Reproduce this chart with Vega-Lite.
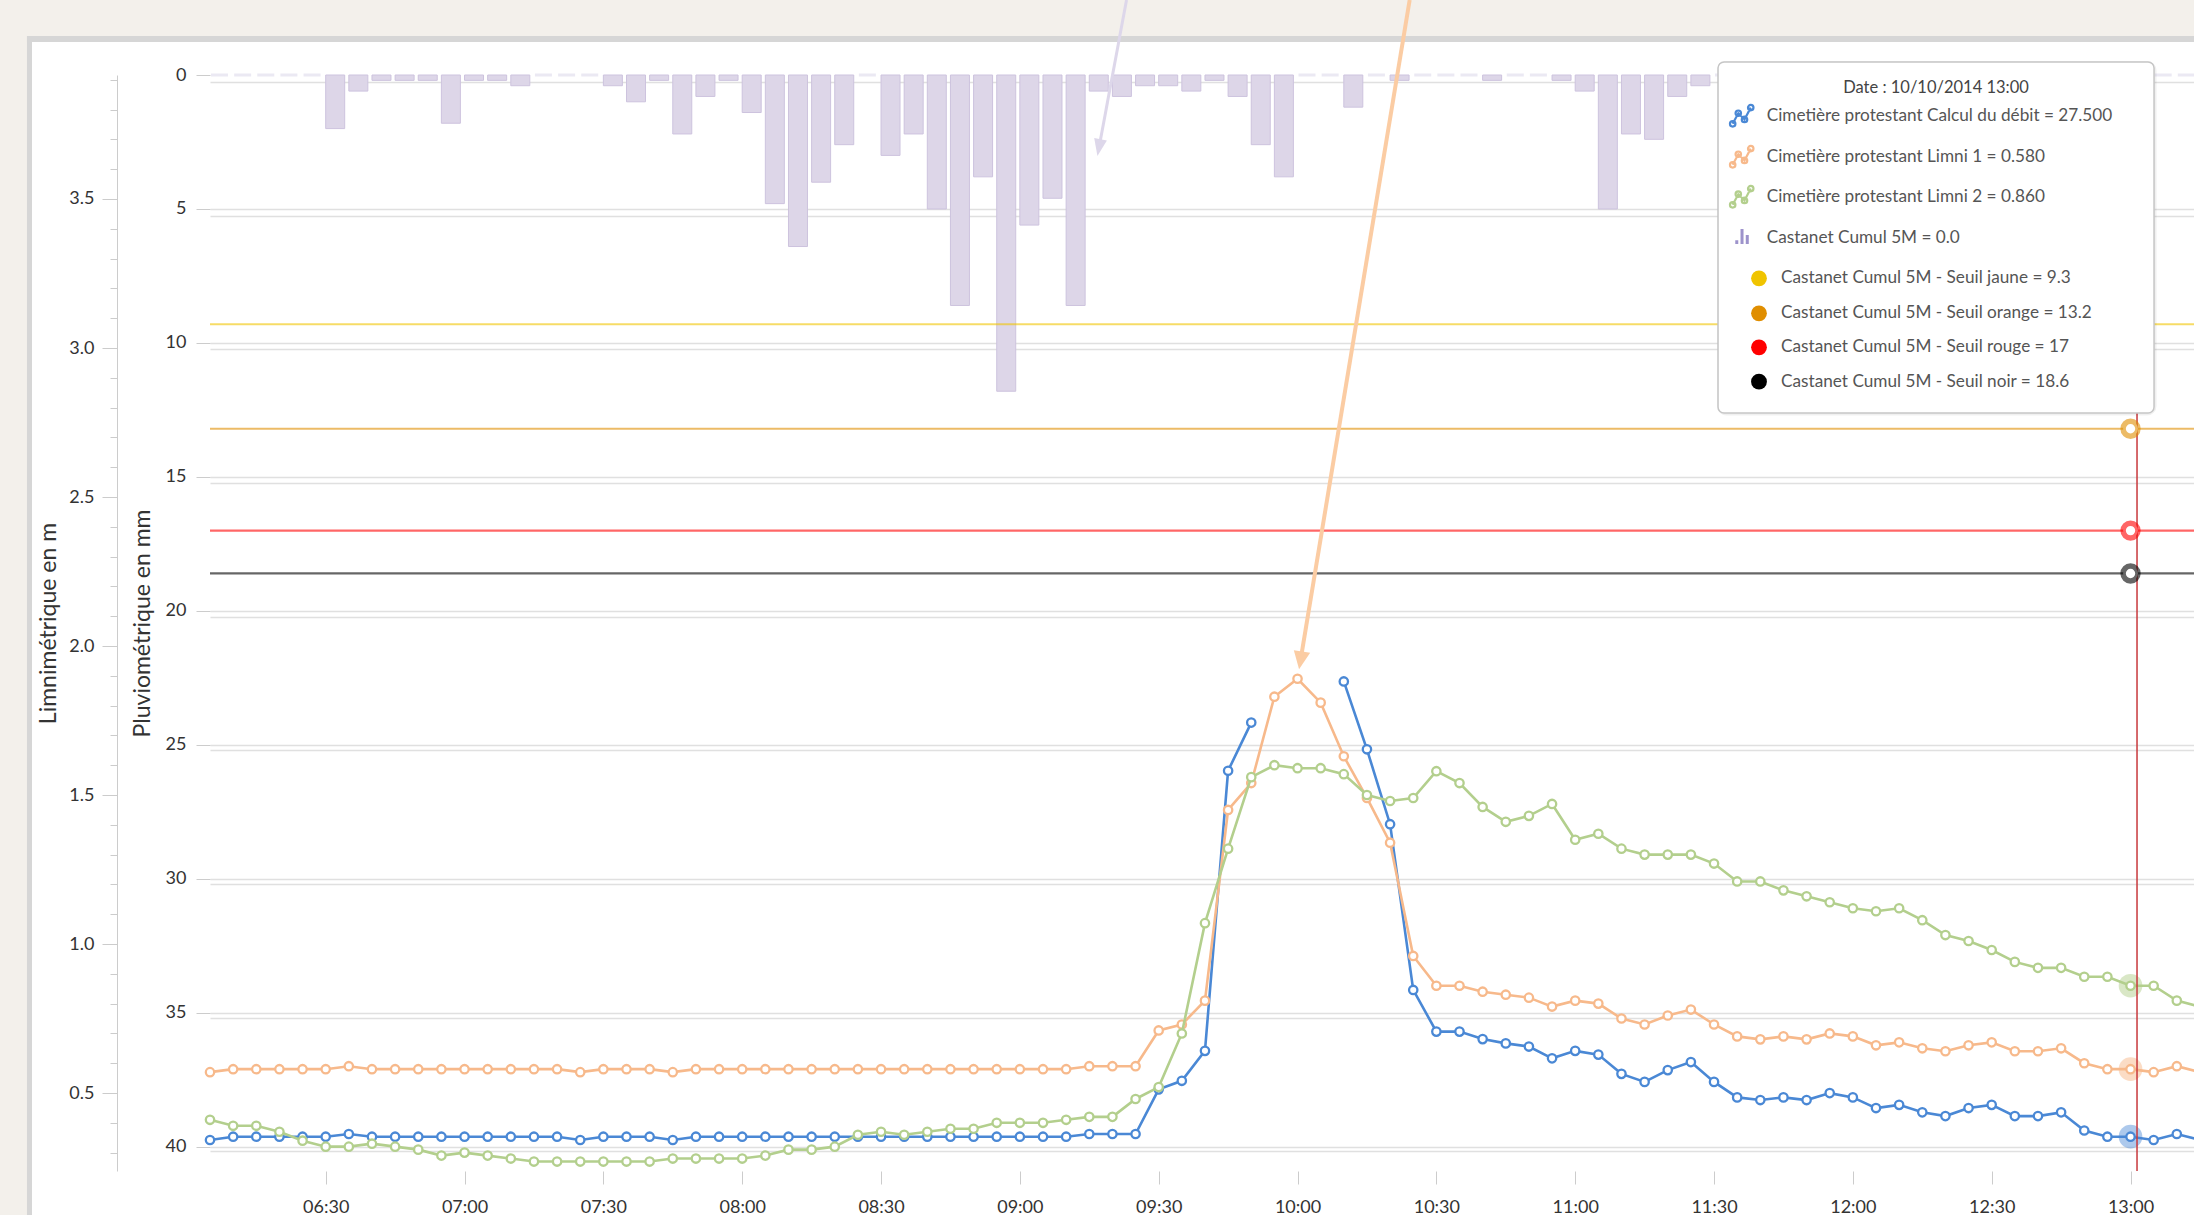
{
"$schema": "https://vega.github.io/schema/vega-lite/v6.json",
"width": 1984,
"height": 1096,
"autosize": {"type": "none"},
"padding": {"left": 210, "top": 75, "right": 0, "bottom": 44},
"background": "#ffffff",
"config": {"view": {"stroke": null}, "text": {"font": "Lato"}, "scale": {"continuousPadding": 0}},
"datasets": {
"s": [
{"t":"2014-10-10T06:05Z","debit":21.3,"limni1":0.57,"limni2":0.41,"pluie":0},
{"t":"2014-10-10T06:10Z","debit":27.5,"limni1":0.58,"limni2":0.39,"pluie":0},
{"t":"2014-10-10T06:15Z","debit":27.5,"limni1":0.58,"limni2":0.39,"pluie":0},
{"t":"2014-10-10T06:20Z","debit":27.5,"limni1":0.58,"limni2":0.37,"pluie":0},
{"t":"2014-10-10T06:25Z","debit":27.5,"limni1":0.58,"limni2":0.34,"pluie":0},
{"t":"2014-10-10T06:30Z","debit":27.5,"limni1":0.58,"limni2":0.32,"pluie":2.0},
{"t":"2014-10-10T06:35Z","debit":32.5,"limni1":0.59,"limni2":0.32,"pluie":0.6},
{"t":"2014-10-10T06:40Z","debit":27.5,"limni1":0.58,"limni2":0.33,"pluie":0.2},
{"t":"2014-10-10T06:45Z","debit":27.5,"limni1":0.58,"limni2":0.32,"pluie":0.2},
{"t":"2014-10-10T06:50Z","debit":27.5,"limni1":0.58,"limni2":0.31,"pluie":0.2},
{"t":"2014-10-10T06:55Z","debit":27.5,"limni1":0.58,"limni2":0.29,"pluie":1.8},
{"t":"2014-10-10T07:00Z","debit":27.5,"limni1":0.58,"limni2":0.30,"pluie":0.2},
{"t":"2014-10-10T07:05Z","debit":27.5,"limni1":0.58,"limni2":0.29,"pluie":0.2},
{"t":"2014-10-10T07:10Z","debit":27.5,"limni1":0.58,"limni2":0.28,"pluie":0.4},
{"t":"2014-10-10T07:15Z","debit":27.5,"limni1":0.58,"limni2":0.27,"pluie":0},
{"t":"2014-10-10T07:20Z","debit":27.5,"limni1":0.58,"limni2":0.27,"pluie":0},
{"t":"2014-10-10T07:25Z","debit":21.3,"limni1":0.57,"limni2":0.27,"pluie":0},
{"t":"2014-10-10T07:30Z","debit":27.5,"limni1":0.58,"limni2":0.27,"pluie":0.4},
{"t":"2014-10-10T07:35Z","debit":27.5,"limni1":0.58,"limni2":0.27,"pluie":1.0},
{"t":"2014-10-10T07:40Z","debit":27.5,"limni1":0.58,"limni2":0.27,"pluie":0.2},
{"t":"2014-10-10T07:45Z","debit":21.3,"limni1":0.57,"limni2":0.28,"pluie":2.2},
{"t":"2014-10-10T07:50Z","debit":27.5,"limni1":0.58,"limni2":0.28,"pluie":0.8},
{"t":"2014-10-10T07:55Z","debit":27.5,"limni1":0.58,"limni2":0.28,"pluie":0.2},
{"t":"2014-10-10T08:00Z","debit":27.5,"limni1":0.58,"limni2":0.28,"pluie":1.4},
{"t":"2014-10-10T08:05Z","debit":27.5,"limni1":0.58,"limni2":0.29,"pluie":4.8},
{"t":"2014-10-10T08:10Z","debit":27.5,"limni1":0.58,"limni2":0.31,"pluie":6.4},
{"t":"2014-10-10T08:15Z","debit":27.5,"limni1":0.58,"limni2":0.31,"pluie":4.0},
{"t":"2014-10-10T08:20Z","debit":27.5,"limni1":0.58,"limni2":0.32,"pluie":2.6},
{"t":"2014-10-10T08:25Z","debit":27.5,"limni1":0.58,"limni2":0.36,"pluie":0},
{"t":"2014-10-10T08:30Z","debit":27.5,"limni1":0.58,"limni2":0.37,"pluie":3.0},
{"t":"2014-10-10T08:35Z","debit":27.5,"limni1":0.58,"limni2":0.36,"pluie":2.2},
{"t":"2014-10-10T08:40Z","debit":27.5,"limni1":0.58,"limni2":0.37,"pluie":5.0},
{"t":"2014-10-10T08:45Z","debit":27.5,"limni1":0.58,"limni2":0.38,"pluie":8.6},
{"t":"2014-10-10T08:50Z","debit":27.5,"limni1":0.58,"limni2":0.38,"pluie":3.8},
{"t":"2014-10-10T08:55Z","debit":27.5,"limni1":0.58,"limni2":0.40,"pluie":11.8},
{"t":"2014-10-10T09:00Z","debit":27.5,"limni1":0.58,"limni2":0.40,"pluie":5.6},
{"t":"2014-10-10T09:05Z","debit":27.5,"limni1":0.58,"limni2":0.40,"pluie":4.6},
{"t":"2014-10-10T09:10Z","debit":27.5,"limni1":0.58,"limni2":0.41,"pluie":8.6},
{"t":"2014-10-10T09:15Z","debit":32.5,"limni1":0.59,"limni2":0.42,"pluie":0.6},
{"t":"2014-10-10T09:20Z","debit":32.5,"limni1":0.59,"limni2":0.42,"pluie":0.8},
{"t":"2014-10-10T09:25Z","debit":32.5,"limni1":0.59,"limni2":0.48,"pluie":0.4},
{"t":"2014-10-10T09:30Z","debit":116,"limni1":0.71,"limni2":0.52,"pluie":0.4},
{"t":"2014-10-10T09:35Z","debit":132,"limni1":0.73,"limni2":0.70,"pluie":0.6},
{"t":"2014-10-10T09:40Z","debit":188,"limni1":0.81,"limni2":1.07,"pluie":0.2},
{"t":"2014-10-10T09:45Z","debit":712,"limni1":1.45,"limni2":1.32,"pluie":0.8},
{"t":"2014-10-10T09:50Z","debit":802,"limni1":1.54,"limni2":1.56,"pluie":2.6},
{"t":"2014-10-10T09:55Z","debit":null,"limni1":1.83,"limni2":1.60,"pluie":3.8},
{"t":"2014-10-10T10:00Z","debit":null,"limni1":1.89,"limni2":1.59,"pluie":0},
{"t":"2014-10-10T10:05Z","debit":null,"limni1":1.81,"limni2":1.59,"pluie":0},
{"t":"2014-10-10T10:10Z","debit":879,"limni1":1.63,"limni2":1.57,"pluie":1.2},
{"t":"2014-10-10T10:15Z","debit":752,"limni1":1.49,"limni2":1.50,"pluie":0},
{"t":"2014-10-10T10:20Z","debit":612,"limni1":1.34,"limni2":1.48,"pluie":0.2},
{"t":"2014-10-10T10:25Z","debit":302,"limni1":0.96,"limni2":1.49,"pluie":0},
{"t":"2014-10-10T10:30Z","debit":224,"limni1":0.86,"limni2":1.58,"pluie":0},
{"t":"2014-10-10T10:35Z","debit":224,"limni1":0.86,"limni2":1.54,"pluie":0},
{"t":"2014-10-10T10:40Z","debit":210,"limni1":0.84,"limni2":1.46,"pluie":0.2},
{"t":"2014-10-10T10:45Z","debit":202,"limni1":0.83,"limni2":1.41,"pluie":0},
{"t":"2014-10-10T10:50Z","debit":196,"limni1":0.82,"limni2":1.43,"pluie":0},
{"t":"2014-10-10T10:55Z","debit":174,"limni1":0.79,"limni2":1.47,"pluie":0.2},
{"t":"2014-10-10T11:00Z","debit":188,"limni1":0.81,"limni2":1.35,"pluie":0.6},
{"t":"2014-10-10T11:05Z","debit":181,"limni1":0.80,"limni2":1.37,"pluie":5.0},
{"t":"2014-10-10T11:10Z","debit":145,"limni1":0.75,"limni2":1.32,"pluie":2.2},
{"t":"2014-10-10T11:15Z","debit":130,"limni1":0.73,"limni2":1.30,"pluie":2.4},
{"t":"2014-10-10T11:20Z","debit":152,"limni1":0.76,"limni2":1.30,"pluie":0.8},
{"t":"2014-10-10T11:25Z","debit":167,"limni1":0.78,"limni2":1.30,"pluie":0.4},
{"t":"2014-10-10T11:30Z","debit":130,"limni1":0.73,"limni2":1.27,"pluie":0},
{"t":"2014-10-10T11:35Z","debit":101,"limni1":0.69,"limni2":1.21,"pluie":0},
{"t":"2014-10-10T11:40Z","debit":96,"limni1":0.68,"limni2":1.21,"pluie":0},
{"t":"2014-10-10T11:45Z","debit":101,"limni1":0.69,"limni2":1.18,"pluie":0},
{"t":"2014-10-10T11:50Z","debit":96,"limni1":0.68,"limni2":1.16,"pluie":0},
{"t":"2014-10-10T11:55Z","debit":109,"limni1":0.70,"limni2":1.14,"pluie":0},
{"t":"2014-10-10T12:00Z","debit":101,"limni1":0.69,"limni2":1.12,"pluie":0},
{"t":"2014-10-10T12:05Z","debit":81,"limni1":0.66,"limni2":1.11,"pluie":0},
{"t":"2014-10-10T12:10Z","debit":87,"limni1":0.67,"limni2":1.12,"pluie":0},
{"t":"2014-10-10T12:15Z","debit":73,"limni1":0.65,"limni2":1.08,"pluie":0},
{"t":"2014-10-10T12:20Z","debit":66,"limni1":0.64,"limni2":1.03,"pluie":0},
{"t":"2014-10-10T12:25Z","debit":81,"limni1":0.66,"limni2":1.01,"pluie":0},
{"t":"2014-10-10T12:30Z","debit":87,"limni1":0.67,"limni2":0.98,"pluie":0},
{"t":"2014-10-10T12:35Z","debit":66,"limni1":0.64,"limni2":0.94,"pluie":0},
{"t":"2014-10-10T12:40Z","debit":66,"limni1":0.64,"limni2":0.92,"pluie":0},
{"t":"2014-10-10T12:45Z","debit":73,"limni1":0.65,"limni2":0.92,"pluie":0},
{"t":"2014-10-10T12:50Z","debit":39,"limni1":0.60,"limni2":0.89,"pluie":0},
{"t":"2014-10-10T12:55Z","debit":27.5,"limni1":0.58,"limni2":0.89,"pluie":0},
{"t":"2014-10-10T13:00Z","debit":27.5,"limni1":0.58,"limni2":0.86,"pluie":0},
{"t":"2014-10-10T13:05Z","debit":21.3,"limni1":0.57,"limni2":0.86,"pluie":0},
{"t":"2014-10-10T13:10Z","debit":32.5,"limni1":0.59,"limni2":0.81,"pluie":0},
{"t":"2014-10-10T13:15Z","debit":21.3,"limni1":0.57,"limni2":0.79,"pluie":0}
],
"thr": [
{"name":"jaune","v":9.3,"t":"2014-10-10T13:00Z"},
{"name":"orange","v":13.2,"t":"2014-10-10T13:00Z"},
{"name":"rouge","v":17,"t":"2014-10-10T13:00Z"},
{"name":"noir","v":18.6,"t":"2014-10-10T13:00Z"}
],
"frame": [
{"part":"fond","t":"2014-10-10T05:00Z","t2":"2014-10-10T14:00Z","p":-5,"p2":-1.4552},
{"part":"fond","t":"2014-10-10T05:00Z","t2":"2014-10-10T05:25:27Z","p":-5,"p2":50},
{"part":"bord","t":"2014-10-10T05:25:27Z","t2":"2014-10-10T14:00Z","p":-1.4552,"p2":-1.2313},
{"part":"bord","t":"2014-10-10T05:25:27Z","t2":"2014-10-10T05:26:32Z","p":-1.4552,"p2":50}
],
"tip": [
{"t":"2014-10-10T11:30:52Z","t2":"2014-10-10T13:05:05Z","p":-0.485,"p2":12.612}
],
"tipdate": [
{"t":"2014-10-10T12:17:58Z","p":0.474,"label":"Date : 10/10/2014 13:00"}
],
"tiptext": [
{"t":"2014-10-10T11:41:23Z","p":1.519,"label":"Cimetière protestant Calcul du débit = 27.500"},
{"t":"2014-10-10T11:41:23Z","p":3.049,"label":"Cimetière protestant Limni 1 = 0.580"},
{"t":"2014-10-10T11:41:23Z","p":4.541,"label":"Cimetière protestant Limni 2 = 0.860"},
{"t":"2014-10-10T11:41:23Z","p":6.071,"label":"Castanet Cumul 5M = 0.0"},
{"t":"2014-10-10T11:44:29Z","p":7.586,"label":"Castanet Cumul 5M - Seuil jaune = 9.3"},
{"t":"2014-10-10T11:44:29Z","p":8.892,"label":"Castanet Cumul 5M - Seuil orange = 13.2"},
{"t":"2014-10-10T11:44:29Z","p":10.160,"label":"Castanet Cumul 5M - Seuil rouge = 17"},
{"t":"2014-10-10T11:44:29Z","p":11.444,"label":"Castanet Cumul 5M - Seuil noir = 18.6"}
],
"tipdots": [
{"t":"2014-10-10T11:39:43Z","p":7.586,"name":"jaune"},
{"t":"2014-10-10T11:39:43Z","p":8.892,"name":"orange"},
{"t":"2014-10-10T11:39:43Z","p":10.160,"name":"rouge"},
{"t":"2014-10-10T11:39:43Z","p":11.444,"name":"noir"}
],
"tipicons": [
{"t":"2014-10-10T11:36:03Z","p":1.519,"name":"debit"},
{"t":"2014-10-10T11:36:03Z","p":3.049,"name":"limni1"},
{"t":"2014-10-10T11:36:03Z","p":4.541,"name":"limni2"}
],
"tipbar": [
{"t":"2014-10-10T11:36:03Z","p":6.03,"name":"pluie"}
],
"cross": [
{"t":"2014-10-10T13:00Z"}
],
"arrowP": [
{"t":"2014-10-10T09:23:03Z","t2":"2014-10-10T09:17:06Z","p":-2.799,"p2":2.709}
],
"arrowL": [
{"t":"2014-10-10T10:24:14Z","t2":"2014-10-10T10:00:39Z","v":4.1678,"v2":1.9517}
]
},
"layer": [
{
"layer": [
{"data":{"name":"frame"},"transform":[{"filter":"datum.part === 'fond'"}],
 "mark":{"type":"rect","color":"#f3f0eb"},
 "encoding":{
  "x":{"field":"t","type":"temporal","scale":{"type":"utc","domain":[{"year":2014,"month":10,"date":10,"hours":6,"minutes":5,"utc":true},{"year":2014,"month":10,"date":10,"hours":13,"minutes":13,"seconds":43,"utc":true}]},"axis":null},
  "x2":{"field":"t2"},
  "y":{"field":"p","type":"quantitative","scale":{"domain":[0,40.896],"reverse":true,"nice":false,"zero":false}},
  "y2":{"field":"p2"}}},
{"data":{"name":"frame"},"transform":[{"filter":"datum.part === 'bord'"}],
 "mark":{"type":"rect","color":"#d6d6d6"},
 "encoding":{
  "x":{"field":"t","type":"temporal","scale":{"type":"utc","domain":[{"year":2014,"month":10,"date":10,"hours":6,"minutes":5,"utc":true},{"year":2014,"month":10,"date":10,"hours":13,"minutes":13,"seconds":43,"utc":true}]},"axis":null},
  "x2":{"field":"t2"},
  "y":{"field":"p","type":"quantitative","scale":{"domain":[0,40.896],"reverse":true,"nice":false,"zero":false}},
  "y2":{"field":"p2"}}},
{"data":{"name":"s"},"transform":[{"filter":"datum.pluie > 0"}],
 "mark":{"type":"bar","width":19,"xOffset":9.5,"fill":"#ddd6e8","stroke":"#cdc3de","strokeWidth":1},
 "encoding":{
  "x":{"field":"t","type":"temporal","scale":{"type":"utc","domain":[{"year":2014,"month":10,"date":10,"hours":6,"minutes":5,"utc":true},{"year":2014,"month":10,"date":10,"hours":13,"minutes":13,"seconds":43,"utc":true}]},"axis":null},
  "y":{"field":"pluie","type":"quantitative","scale":{"domain":[0,40.896],"reverse":true,"nice":false,"zero":false},
   "axis":{"orient":"left","values":[0,5,10,15,20,25,30,35,40],"tickSize":14,"tickColor":"#cccccc","domain":false,"labelPadding":10,"labelFont":"Lato","labelFontSize":18,"labelColor":"#333333","labelFlush":false,"labelOverlap":false,"grid":true,"gridColor":{"condition":{"test":"datum.value === 0","value":"rgba(0,0,0,0)"},"value":"#e0e0e0"},"gridWidth":1.5,"title":"Pluviométrique en mm","titleFont":"Lato","titleFontSize":23,"titleFontWeight":"normal","titleColor":"#333333","titlePadding":11}}}},
{"data":{"name":"s"},"transform":[{"filter":"datum.pluie === 0"}],
 "mark":{"type":"tick","orient":"horizontal","size":17,"thickness":3,"xOffset":9.5,"color":"#e3dfee"},
 "encoding":{
  "x":{"field":"t","type":"temporal","scale":{"type":"utc","domain":[{"year":2014,"month":10,"date":10,"hours":6,"minutes":5,"utc":true},{"year":2014,"month":10,"date":10,"hours":13,"minutes":13,"seconds":43,"utc":true}]},"axis":null},
  "y":{"field":"pluie","type":"quantitative","scale":{"domain":[0,40.896],"reverse":true,"nice":false,"zero":false}}}},
{"data":{"name":"thr"},
 "mark":{"type":"rule","strokeWidth":2.2,"opacity":0.6},
 "encoding":{
  "y":{"field":"v","type":"quantitative","scale":{"domain":[0,40.896],"reverse":true,"nice":false,"zero":false}},
  "color":{"field":"name","type":"nominal","scale":{"domain":["jaune","orange","rouge","noir","debit","limni1","limni2","pluie"],"range":["#f0c400","#e08e00","#ff0000","#000000","#4a88d5","#f7b98b","#b3cf8d","#9d93cb"]},"legend":null}}}
]
},
{
"data":{"name":"s"},
"layer": [
{"mark":{"type":"line","color":"#4a88d5","strokeWidth":2.6,"invalid":"break-paths-show-domains"},
 "encoding":{
  "x":{"field":"t","type":"temporal","scale":{"type":"utc","domain":[{"year":2014,"month":10,"date":10,"hours":6,"minutes":5,"utc":true},{"year":2014,"month":10,"date":10,"hours":13,"minutes":13,"seconds":43,"utc":true}]},"axis":null},
  "y":{"field":"debit","type":"quantitative","scale":{"domain":[-36.7,2013.3],"nice":false,"zero":false},
   "axis":{"orient":"right","values":[0,250,500,750,1000,1250,1500,1750,2000],"labels":false,"ticks":false,"domain":false,"grid":true,"gridColor":"#e0e0e0","gridWidth":1.5,"title":null}}}},
{"transform":[{"filter":"utchours(datum.t) === 13 && utcminutes(datum.t) === 0"}],
 "mark":{"type":"point","filled":true,"color":"#4a88d5","opacity":0.45,"size":560},
 "encoding":{
  "x":{"field":"t","type":"temporal","scale":{"type":"utc","domain":[{"year":2014,"month":10,"date":10,"hours":6,"minutes":5,"utc":true},{"year":2014,"month":10,"date":10,"hours":13,"minutes":13,"seconds":43,"utc":true}]},"axis":null},
  "y":{"field":"debit","type":"quantitative","scale":{"domain":[-36.7,2013.3],"nice":false,"zero":false}}}},
{"mark":{"type":"point","filled":true,"fill":"#ffffff","stroke":"#4a88d5","strokeWidth":2.3,"size":70,"opacity":1},
 "encoding":{
  "x":{"field":"t","type":"temporal","scale":{"type":"utc","domain":[{"year":2014,"month":10,"date":10,"hours":6,"minutes":5,"utc":true},{"year":2014,"month":10,"date":10,"hours":13,"minutes":13,"seconds":43,"utc":true}]},"axis":null},
  "y":{"field":"debit","type":"quantitative","scale":{"domain":[-36.7,2013.3],"nice":false,"zero":false}}}}
]
},
{
"layer": [
{"data":{"name":"s"},"mark":{"type":"line","color":"#f7b98b","strokeWidth":2.6},
 "encoding":{
  "x":{"field":"t","type":"temporal","scale":{"type":"utc","domain":[{"year":2014,"month":10,"date":10,"hours":6,"minutes":5,"utc":true},{"year":2014,"month":10,"date":10,"hours":13,"minutes":13,"seconds":43,"utc":true}]},"axis":null},
  "y":{"field":"limni1","type":"quantitative","scale":{"domain":[0.2383,3.9161],"nice":false,"zero":false},
   "axis":{"orient":"left","offset":93,"values":[0.5,1,1.5,2,2.5,3,3.5],"format":".1f","tickSize":15,"tickColor":"#cccccc","domain":true,"domainColor":"#cccccc","domainWidth":1,"labelPadding":8,"labelFont":"Lato","labelFontSize":18,"labelColor":"#333333","labelFlush":false,"labelOverlap":false,"grid":false,"title":"Limnimétrique en m","titleFont":"Lato","titleFontSize":23,"titleFontWeight":"normal","titleColor":"#333333","titlePadding":8}}}},
{"data":{"name":"s"},"transform":[{"filter":"utchours(datum.t) === 13 && utcminutes(datum.t) === 0"}],
 "mark":{"type":"point","filled":true,"color":"#f7b98b","opacity":0.5,"size":560},
 "encoding":{
  "x":{"field":"t","type":"temporal","scale":{"type":"utc","domain":[{"year":2014,"month":10,"date":10,"hours":6,"minutes":5,"utc":true},{"year":2014,"month":10,"date":10,"hours":13,"minutes":13,"seconds":43,"utc":true}]},"axis":null},
  "y":{"field":"limni1","type":"quantitative","scale":{"domain":[0.2383,3.9161],"nice":false,"zero":false}}}},
{"data":{"name":"s"},"mark":{"type":"point","filled":true,"fill":"#ffffff","stroke":"#f7b98b","strokeWidth":2.3,"size":70,"opacity":1},
 "encoding":{
  "x":{"field":"t","type":"temporal","scale":{"type":"utc","domain":[{"year":2014,"month":10,"date":10,"hours":6,"minutes":5,"utc":true},{"year":2014,"month":10,"date":10,"hours":13,"minutes":13,"seconds":43,"utc":true}]},"axis":null},
  "y":{"field":"limni1","type":"quantitative","scale":{"domain":[0.2383,3.9161],"nice":false,"zero":false}}}},
{"data":{"name":"s"},"mark":{"type":"line","color":"#b3cf8d","strokeWidth":2.6},
 "encoding":{
  "x":{"field":"t","type":"temporal","scale":{"type":"utc","domain":[{"year":2014,"month":10,"date":10,"hours":6,"minutes":5,"utc":true},{"year":2014,"month":10,"date":10,"hours":13,"minutes":13,"seconds":43,"utc":true}]},"axis":null},
  "y":{"field":"limni2","type":"quantitative","scale":{"domain":[0.2383,3.9161],"nice":false,"zero":false}}}},
{"data":{"name":"s"},"transform":[{"filter":"utchours(datum.t) === 13 && utcminutes(datum.t) === 0"}],
 "mark":{"type":"point","filled":true,"color":"#b3cf8d","opacity":0.5,"size":560},
 "encoding":{
  "x":{"field":"t","type":"temporal","scale":{"type":"utc","domain":[{"year":2014,"month":10,"date":10,"hours":6,"minutes":5,"utc":true},{"year":2014,"month":10,"date":10,"hours":13,"minutes":13,"seconds":43,"utc":true}]},"axis":null},
  "y":{"field":"limni2","type":"quantitative","scale":{"domain":[0.2383,3.9161],"nice":false,"zero":false}}}},
{"data":{"name":"s"},"mark":{"type":"point","filled":true,"fill":"#ffffff","stroke":"#b3cf8d","strokeWidth":2.3,"size":70,"opacity":1},
 "encoding":{
  "x":{"field":"t","type":"temporal","scale":{"type":"utc","domain":[{"year":2014,"month":10,"date":10,"hours":6,"minutes":5,"utc":true},{"year":2014,"month":10,"date":10,"hours":13,"minutes":13,"seconds":43,"utc":true}]},"axis":null},
  "y":{"field":"limni2","type":"quantitative","scale":{"domain":[0.2383,3.9161],"nice":false,"zero":false}}}},
{"data":{"name":"arrowL"},"mark":{"type":"rule","color":"#fbcca3","strokeWidth":4},
 "encoding":{
  "x":{"field":"t","type":"temporal","scale":{"type":"utc","domain":[{"year":2014,"month":10,"date":10,"hours":6,"minutes":5,"utc":true},{"year":2014,"month":10,"date":10,"hours":13,"minutes":13,"seconds":43,"utc":true}]},"axis":null},
  "x2":{"field":"t2"},
  "y":{"field":"v","type":"quantitative","scale":{"domain":[0.2383,3.9161],"nice":false,"zero":false}},
  "y2":{"field":"v2"}}},
{"data":{"name":"arrowL"},"mark":{"type":"point","shape":"M-0.92,-1L0.92,-1L0,1Z","filled":true,"color":"#fbcca3","opacity":1,"size":324,"angle":9.39},
 "encoding":{
  "x":{"field":"t2","type":"temporal","scale":{"type":"utc","domain":[{"year":2014,"month":10,"date":10,"hours":6,"minutes":5,"utc":true},{"year":2014,"month":10,"date":10,"hours":13,"minutes":13,"seconds":43,"utc":true}]},"axis":null},
  "y":{"field":"v2","type":"quantitative","scale":{"domain":[0.2383,3.9161],"nice":false,"zero":false}}}}
]
},
{
"data":{"values":[{"t":"2014-10-10T08:00Z","v":1}]},
"mark":{"type":"point","opacity":0},
"encoding":{
 "x":{"field":"t","type":"temporal","scale":{"type":"utc","domain":[{"year":2014,"month":10,"date":10,"hours":6,"minutes":5,"utc":true},{"year":2014,"month":10,"date":10,"hours":13,"minutes":13,"seconds":43,"utc":true}]},"axis":null},
 "y":{"field":"v","type":"quantitative","scale":{"domain":[0.2383,3.9161],"nice":false,"zero":false},
  "axis":{"orient":"left","offset":93,"values":[0.3,0.4,0.6,0.7,0.8,0.9,1.1,1.2,1.3,1.4,1.6,1.7,1.8,1.9,2.1,2.2,2.3,2.4,2.6,2.7,2.8,2.9,3.1,3.2,3.3,3.4,3.6,3.7,3.8,3.9],"tickSize":7,"tickColor":"#cccccc","labels":false,"domain":false,"grid":false,"title":null}}}
},
{
"data":{"name":"cross"},
"mark":{"type":"point","opacity":0},
"encoding":{
 "x":{"field":"t","type":"temporal","scale":{"type":"utc","domain":[{"year":2014,"month":10,"date":10,"hours":6,"minutes":5,"utc":true},{"year":2014,"month":10,"date":10,"hours":13,"minutes":13,"seconds":43,"utc":true}]},
  "axis":{"orient":"bottom","format":"%H:%M","values":[{"year":2014,"month":10,"date":10,"hours":6,"minutes":30,"utc":true},{"year":2014,"month":10,"date":10,"hours":7,"minutes":0,"utc":true},{"year":2014,"month":10,"date":10,"hours":7,"minutes":30,"utc":true},{"year":2014,"month":10,"date":10,"hours":8,"minutes":0,"utc":true},{"year":2014,"month":10,"date":10,"hours":8,"minutes":30,"utc":true},{"year":2014,"month":10,"date":10,"hours":9,"minutes":0,"utc":true},{"year":2014,"month":10,"date":10,"hours":9,"minutes":30,"utc":true},{"year":2014,"month":10,"date":10,"hours":10,"minutes":0,"utc":true},{"year":2014,"month":10,"date":10,"hours":10,"minutes":30,"utc":true},{"year":2014,"month":10,"date":10,"hours":11,"minutes":0,"utc":true},{"year":2014,"month":10,"date":10,"hours":11,"minutes":30,"utc":true},{"year":2014,"month":10,"date":10,"hours":12,"minutes":0,"utc":true},{"year":2014,"month":10,"date":10,"hours":12,"minutes":30,"utc":true},{"year":2014,"month":10,"date":10,"hours":13,"minutes":0,"utc":true}],"grid":false,"domain":false,"tickSize":13,"tickColor":"#cccccc","tickWidth":1,"labelPadding":14,"labelFont":"Lato","labelFontSize":18,"labelColor":"#333333","labelFlush":false,"labelOverlap":false,"title":null}},
 "y":{"field":"t","type":"temporal","axis":null}}
},
{
"layer": [
{"data":{"name":"cross"},"mark":{"type":"rule","color":"#c8383c","strokeWidth":1.5,"xOffset":6.5},
 "encoding":{
  "x":{"field":"t","type":"temporal","scale":{"type":"utc","domain":[{"year":2014,"month":10,"date":10,"hours":6,"minutes":5,"utc":true},{"year":2014,"month":10,"date":10,"hours":13,"minutes":13,"seconds":43,"utc":true}]},"axis":null}}},
{"data":{"name":"thr"},"mark":{"type":"point","shape":"circle","filled":true,"fill":"#ffffff","strokeWidth":5.5,"strokeOpacity":0.6,"size":220,"opacity":1},
 "encoding":{
  "x":{"field":"t","type":"temporal","scale":{"type":"utc","domain":[{"year":2014,"month":10,"date":10,"hours":6,"minutes":5,"utc":true},{"year":2014,"month":10,"date":10,"hours":13,"minutes":13,"seconds":43,"utc":true}]},"axis":null},
  "y":{"field":"v","type":"quantitative","scale":{"domain":[0,40.896],"reverse":true,"nice":false,"zero":false},"axis":null},
  "stroke":{"field":"name","type":"nominal","scale":{"domain":["jaune","orange","rouge","noir","debit","limni1","limni2","pluie"],"range":["#f0c400","#e08e00","#ff0000","#000000","#4a88d5","#f7b98b","#b3cf8d","#9d93cb"]},"legend":null}}},
{"data":{"name":"tip"},"mark":{"type":"rect","fill":"transparent","stroke":"#000000","strokeOpacity":0.06,"strokeWidth":5,"cornerRadius":7,"xOffset":1.5,"yOffset":1.5},
 "encoding":{
  "x":{"field":"t","type":"temporal","scale":{"type":"utc","domain":[{"year":2014,"month":10,"date":10,"hours":6,"minutes":5,"utc":true},{"year":2014,"month":10,"date":10,"hours":13,"minutes":13,"seconds":43,"utc":true}]},"axis":null},
  "x2":{"field":"t2"},
  "y":{"field":"p","type":"quantitative","scale":{"domain":[0,40.896],"reverse":true,"nice":false,"zero":false},"axis":null},
  "y2":{"field":"p2"}}},
{"data":{"name":"tip"},"mark":{"type":"rect","fill":"#ffffff","stroke":"#c6c6c6","strokeWidth":1.5,"cornerRadius":6},
 "encoding":{
  "x":{"field":"t","type":"temporal","scale":{"type":"utc","domain":[{"year":2014,"month":10,"date":10,"hours":6,"minutes":5,"utc":true},{"year":2014,"month":10,"date":10,"hours":13,"minutes":13,"seconds":43,"utc":true}]},"axis":null},
  "x2":{"field":"t2"},
  "y":{"field":"p","type":"quantitative","scale":{"domain":[0,40.896],"reverse":true,"nice":false,"zero":false},"axis":null},
  "y2":{"field":"p2"}}},
{"data":{"name":"tipdate"},"mark":{"type":"text","align":"center","baseline":"middle","font":"Lato","fontSize":16.5,"color":"#444444"},
 "encoding":{
  "x":{"field":"t","type":"temporal","scale":{"type":"utc","domain":[{"year":2014,"month":10,"date":10,"hours":6,"minutes":5,"utc":true},{"year":2014,"month":10,"date":10,"hours":13,"minutes":13,"seconds":43,"utc":true}]},"axis":null},
  "y":{"field":"p","type":"quantitative","scale":{"domain":[0,40.896],"reverse":true,"nice":false,"zero":false},"axis":null},
  "text":{"field":"label"}}},
{"data":{"name":"tiptext"},"mark":{"type":"text","align":"left","baseline":"middle","font":"Lato","fontSize":17.2,"color":"#555555"},
 "encoding":{
  "x":{"field":"t","type":"temporal","scale":{"type":"utc","domain":[{"year":2014,"month":10,"date":10,"hours":6,"minutes":5,"utc":true},{"year":2014,"month":10,"date":10,"hours":13,"minutes":13,"seconds":43,"utc":true}]},"axis":null},
  "y":{"field":"p","type":"quantitative","scale":{"domain":[0,40.896],"reverse":true,"nice":false,"zero":false},"axis":null},
  "text":{"field":"label"}}},
{"data":{"name":"tipdots"},"mark":{"type":"point","shape":"circle","filled":true,"size":250,"opacity":1},
 "encoding":{
  "x":{"field":"t","type":"temporal","scale":{"type":"utc","domain":[{"year":2014,"month":10,"date":10,"hours":6,"minutes":5,"utc":true},{"year":2014,"month":10,"date":10,"hours":13,"minutes":13,"seconds":43,"utc":true}]},"axis":null},
  "y":{"field":"p","type":"quantitative","scale":{"domain":[0,40.896],"reverse":true,"nice":false,"zero":false},"axis":null},
  "color":{"field":"name","type":"nominal","scale":{"domain":["jaune","orange","rouge","noir","debit","limni1","limni2","pluie"],"range":["#f0c400","#e08e00","#ff0000","#000000","#4a88d5","#f7b98b","#b3cf8d","#9d93cb"]},"legend":null}}},
{"data":{"name":"tipicons"},"mark":{"type":"point","shape":"M-0.75,0.65L-0.3,-0.2L0.2,0.3L0.7,-0.65M-0.97,0.65a0.22,0.22 0 1,0 0.44,0a0.22,0.22 0 1,0 -0.44,0M-0.52,-0.2a0.22,0.22 0 1,0 0.44,0a0.22,0.22 0 1,0 -0.44,0M-0.02,0.3a0.22,0.22 0 1,0 0.44,0a0.22,0.22 0 1,0 -0.44,0M0.48,-0.65a0.22,0.22 0 1,0 0.44,0a0.22,0.22 0 1,0 -0.44,0","filled":false,"strokeWidth":2.2,"size":620,"opacity":1},
 "encoding":{
  "x":{"field":"t","type":"temporal","scale":{"type":"utc","domain":[{"year":2014,"month":10,"date":10,"hours":6,"minutes":5,"utc":true},{"year":2014,"month":10,"date":10,"hours":13,"minutes":13,"seconds":43,"utc":true}]},"axis":null},
  "y":{"field":"p","type":"quantitative","scale":{"domain":[0,40.896],"reverse":true,"nice":false,"zero":false},"axis":null},
  "stroke":{"field":"name","type":"nominal","scale":{"domain":["jaune","orange","rouge","noir","debit","limni1","limni2","pluie"],"range":["#f0c400","#e08e00","#ff0000","#000000","#4a88d5","#f7b98b","#b3cf8d","#9d93cb"]},"legend":null}}},
{"data":{"name":"tipbar"},"mark":{"type":"point","shape":"M-0.9,1L-0.5,1L-0.5,0.5L-0.9,0.5ZM-0.2,1L0.2,1L0.2,-1L-0.2,-1ZM0.5,1L0.9,1L0.9,-0.2L0.5,-0.2Z","filled":true,"size":225,"opacity":1},
 "encoding":{
  "x":{"field":"t","type":"temporal","scale":{"type":"utc","domain":[{"year":2014,"month":10,"date":10,"hours":6,"minutes":5,"utc":true},{"year":2014,"month":10,"date":10,"hours":13,"minutes":13,"seconds":43,"utc":true}]},"axis":null},
  "y":{"field":"p","type":"quantitative","scale":{"domain":[0,40.896],"reverse":true,"nice":false,"zero":false},"axis":null},
  "color":{"field":"name","type":"nominal","scale":{"domain":["jaune","orange","rouge","noir","debit","limni1","limni2","pluie"],"range":["#f0c400","#e08e00","#ff0000","#000000","#4a88d5","#f7b98b","#b3cf8d","#9d93cb"]},"legend":null}}},
{"data":{"name":"arrowP"},"mark":{"type":"rule","color":"#ddd7ea","strokeWidth":3},
 "encoding":{
  "x":{"field":"t","type":"temporal","scale":{"type":"utc","domain":[{"year":2014,"month":10,"date":10,"hours":6,"minutes":5,"utc":true},{"year":2014,"month":10,"date":10,"hours":13,"minutes":13,"seconds":43,"utc":true}]},"axis":null},
  "x2":{"field":"t2"},
  "y":{"field":"p","type":"quantitative","scale":{"domain":[0,40.896],"reverse":true,"nice":false,"zero":false},"axis":null},
  "y2":{"field":"p2"}}},
{"data":{"name":"arrowP"},"mark":{"type":"point","shape":"M-0.76,-1L0.76,-1L0,1Z","filled":true,"color":"#ddd7ea","opacity":1,"size":289,"angle":10.57},
 "encoding":{
  "x":{"field":"t2","type":"temporal","scale":{"type":"utc","domain":[{"year":2014,"month":10,"date":10,"hours":6,"minutes":5,"utc":true},{"year":2014,"month":10,"date":10,"hours":13,"minutes":13,"seconds":43,"utc":true}]},"axis":null},
  "y":{"field":"p2","type":"quantitative","scale":{"domain":[0,40.896],"reverse":true,"nice":false,"zero":false},"axis":null}}}
]
}
],
"resolve":{"scale":{"y":"independent"},"axis":{"x":"independent"}}
}
